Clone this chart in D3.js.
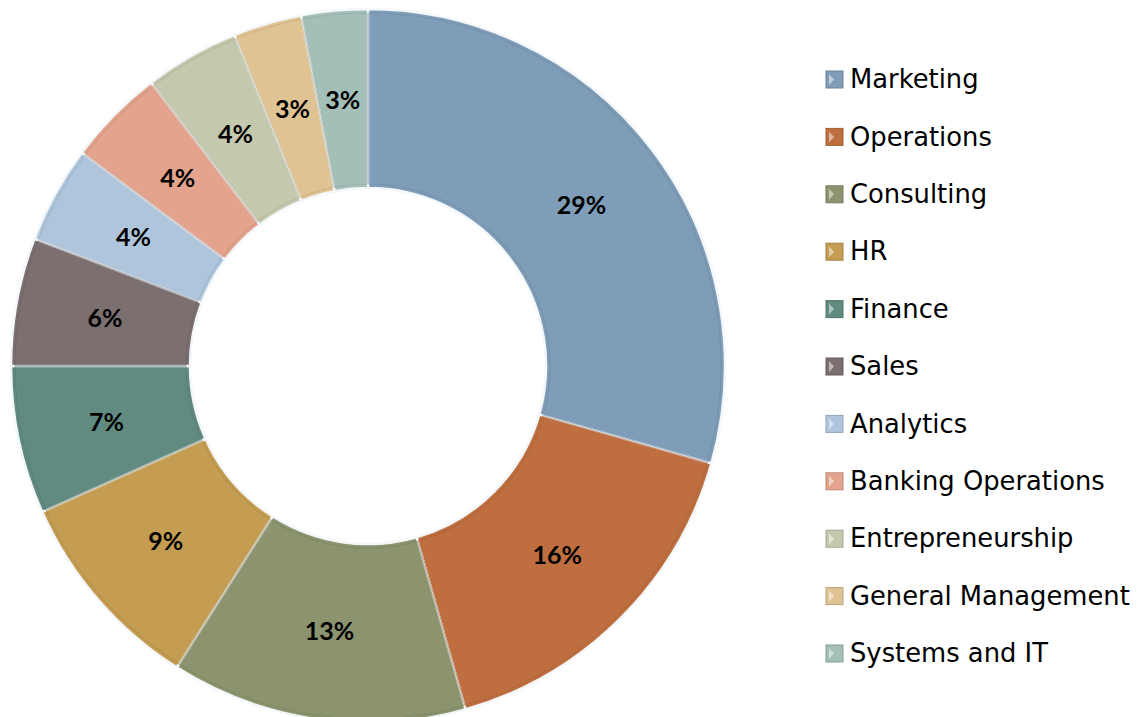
<!DOCTYPE html>
<html><head><meta charset="utf-8">
<script src="https://cdn.jsdelivr.net/npm/d3@7"></script>
<style>body{margin:0;background:#fff}svg{display:block}</style>
</head><body>
<svg id="c" width="1138" height="717"></svg>
<script>
const categories = ["Marketing","Operations","Consulting","HR","Finance","Sales","Analytics","Banking Operations","Entrepreneurship","General Management","Systems and IT"];
const values = [29.4,16.2,13.4,9.3,6.7,5.8,4.4,4.4,4.3,3.1,3.0];
const colors = ["#7f9db8","#bf6f3f","#8b946e","#c49d52","#618b80","#7c6f70","#afc5dc","#e3a38c","#c4c8ad","#e0c393","#a3bfb7"];

const svg = d3.select("#c");
const cx = 368, cy = 366, R = 357, r0 = 178;
const total = d3.sum(values);
const pie = d3.pie().sort(null).value(d => d.v);
const arcs = pie(categories.map((c,i)=>({c, v: values[i], col: colors[i]})));
const arc = d3.arc().innerRadius(r0).outerRadius(R);
const inner = d3.arc().innerRadius(r0+4).outerRadius(R-4).padAngle(0.004);
const g = svg.append("g").attr("transform",`translate(${cx},${cy})`);

g.selectAll("path.s").data(arcs).join("path").attr("class","s")
  .attr("d",arc).attr("fill",d=>d.data.col)
  .attr("stroke","#f4f8fb").attr("stroke-width",2.5);
g.selectAll("path.b").data(arcs).join("path").attr("class","b")
  .attr("d",inner).attr("fill","none")
  .attr("stroke",d=>d3.color(d.data.col).darker(0.35)).attr("stroke-width",1.2).attr("stroke-opacity",0.6);

const lab = d3.arc().innerRadius((R+r0)/2).outerRadius((R+r0)/2);
g.selectAll("text").data(arcs).join("text")
  .attr("transform",d=>`translate(${lab.centroid(d)})`)
  .attr("text-anchor","middle").attr("dy","0.36em")
  .style("font-family","Lato, 'Open Sans', sans-serif").style("font-weight","bold").style("font-size","25px")
  .attr("fill","#000")
  .text(d=>Math.round(d.data.v/total*100)+"%");

const ly = d3.scalePoint().domain(categories).range([79,653]);
const lg = svg.append("g");
const items = lg.selectAll("g").data(categories).join("g")
  .attr("transform",d=>`translate(826,${ly(d)})`);
items.append("rect").attr("x",0).attr("y",-8).attr("width",17).attr("height",17)
  .attr("fill",(d,i)=>colors[i]).attr("stroke",(d,i)=>d3.color(colors[i]).darker(0.5)).attr("stroke-width",1);
items.append("path").attr("d","M3,-5 L8,0.5 L3,6 Z").attr("fill","#fff").attr("fill-opacity",0.5);
items.append("text").attr("x",24).attr("dy","0.36em")
  .style("font-family","'DejaVu Sans', sans-serif").style("font-size","25.8px").attr("fill","#000")
  .text(d=>d);
</script>
</body></html>
